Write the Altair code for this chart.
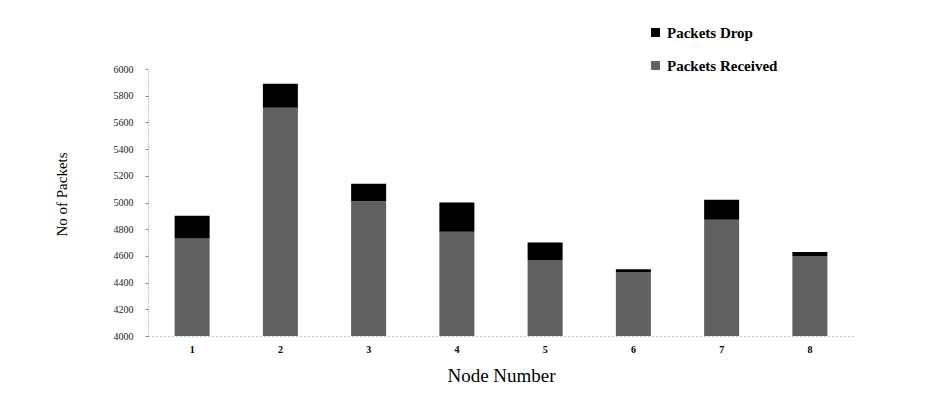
import altair as alt
import pandas as pd

nodes = ["1", "2", "3", "4", "5", "6", "7", "8"]
received = [4730, 5710, 5010, 4780, 4570, 4480, 4870, 4600]
dropped = [170, 180, 130, 220, 130, 20, 150, 30]
y_ticks = [4000, 4200, 4400, 4600, 4800, 5000, 5200, 5400, 5600, 5800, 6000]

rows = []
for n, r, d in zip(nodes, received, dropped):
    rows.append({"node": n, "series": "Packets Received", "start": 4000, "end": r})
    rows.append({"node": n, "series": "Packets Drop", "start": r, "end": r + d})
df = pd.DataFrame(rows)

font = "Liberation Serif"

chart = alt.Chart(df).mark_bar(size=35).encode(
    x=alt.X("node:N", sort=nodes, title="Node Number",
            scale=alt.Scale(paddingInner=0.6, paddingOuter=0.3),
            axis=alt.Axis(labelAngle=0, labelFont=font, labelFontSize=10, labelFontWeight="bold",
                          labelPadding=8, ticks=False, domainDash=[1, 3], domainColor="#888",
                          titleFont=font, titleFontSize=19, titleFontWeight="normal",
                          titlePadding=12, titleColor="black", labelColor="black")),
    y=alt.Y("start:Q", title="No of Packets",
            scale=alt.Scale(domain=[4000, 6000], zero=False, nice=False),
            axis=alt.Axis(values=y_ticks, format="d", labelFont=font, labelFontSize=10,
                          labelColor="#222", labelPadding=12, tickSize=3, tickColor="#888",
                          domainDash=[1, 2], domainColor="#888", grid=False, titleFont=font,
                          titleFontSize=15, titleFontWeight="normal", titlePadding=44,
                          titleColor="black", titleY=125)),
    y2="end:Q",
    color=alt.Color("series:N",
                    scale=alt.Scale(domain=["Packets Drop", "Packets Received"],
                                    range=["#000000", "#606060"]),
                    legend=alt.Legend(title=None, orient="none", legendX=500, legendY=-44,
                                      labelFont=font, labelFontSize=15, labelFontWeight="bold",
                                      labelColor="black", symbolType="square", symbolSize=80,
                                      rowPadding=17, symbolStrokeWidth=0)),
).properties(
    width=706, height=267,
    autosize=alt.AutoSizeParams(type="none"),
    padding={"left": 148, "top": 69, "right": 78, "bottom": 68},
).configure(background="white").configure_view(stroke=None)

chart.save("out.html", embed_options={"renderer": "svg", "actions": False})
